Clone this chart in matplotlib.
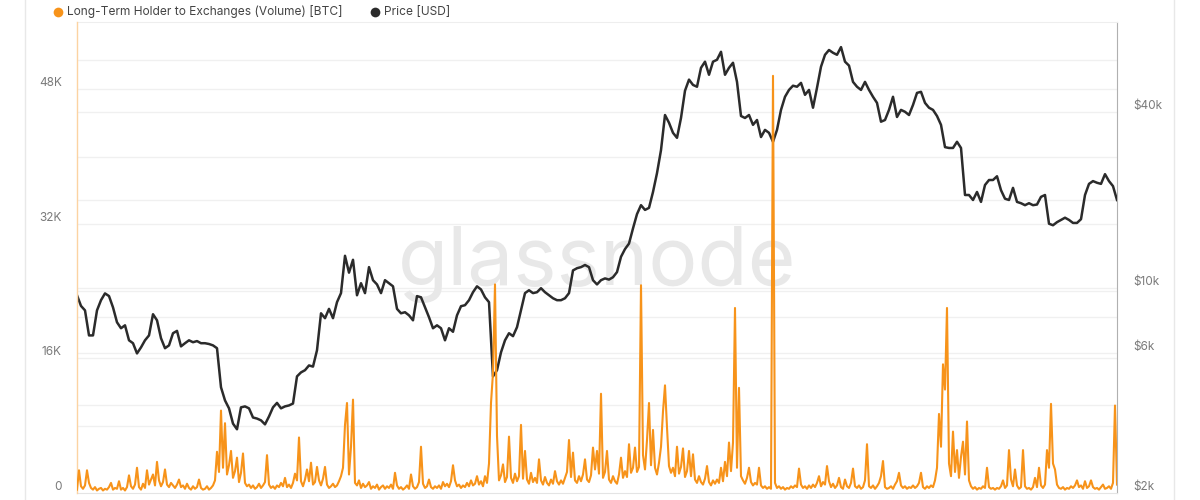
import numpy as np
import pandas as pd
import matplotlib
matplotlib.use("Agg")
import matplotlib.pyplot as plt
from matplotlib.lines import Line2D
import matplotlib.transforms as mtransforms

# ---------------- data ----------------
start_date = "2018-03-09"
end_date = "2023-03-13"

price_usd = [
    9460, 8700, 8400, 6900, 6900, 8400, 9100, 9600, 9400, 8600,
    7650, 7300, 7470, 6640, 6490, 5990, 6280, 6640, 6900, 8150,
    7770, 6750, 6240, 6380, 7020, 7150, 6330, 6490, 6640, 6540,
    6600, 6490, 6490, 6450, 6380, 6240, 4590, 4140, 3890, 3450,
    3300, 3920, 3950, 3890, 3620, 3590, 3540, 3430, 3650, 3920,
    4060, 3890, 3950, 3980, 4040, 5000, 5160, 5250, 5450, 5400,
    6140, 8210, 7900, 8500, 7900, 8960, 9620, 12900, 11300, 12500,
    9460, 10400, 9620, 11800, 10650, 10300, 9620, 10650, 10400, 10150,
    8500, 8210, 8280, 8080, 7770, 9400, 9310, 8610, 7960, 7300,
    7470, 7300, 6640, 7300, 7100, 8080, 8680, 8750, 9100, 9690,
    10150, 9900, 9310, 8960, 5000, 5250, 6040, 6640, 7020, 6860,
    7360, 8410, 9620, 9840, 9620, 9690, 10000, 9690, 9460, 9240,
    9100, 9100, 9240, 9620, 11500, 11700, 11800, 12000, 11800, 10650,
    10300, 10650, 10800, 10700, 10900, 11350, 12800, 13600, 14200, 16000,
    17900, 19200, 18500, 18800, 21300, 24700, 29600, 39000, 36700, 33900,
    32600, 38100, 47200, 51500, 49400, 48700, 56500, 59300, 53500, 59300,
    60200, 64100, 53500, 56500, 58800, 50600, 38700, 38100, 39000, 36100,
    37500, 32800, 34700, 33900, 31600, 34700, 40600, 45000, 47500, 49100,
    48700, 50200, 45700, 47500, 41300, 48300, 57000, 62600, 65000, 63600,
    62600, 66500, 59300, 57500, 50600, 48700, 47500, 50600, 47500, 45000,
    42900, 37000, 37500, 40600, 45000, 38400, 40600, 40000, 39000, 42200,
    46400, 46800, 42900, 41300, 40600, 38700, 36100, 30300, 30100, 30100,
    31600, 30100, 20800, 20800, 20000, 21300, 19700, 22500, 23400, 23400,
    24100, 21600, 20200, 20000, 22000, 19700, 19500, 19200, 19500, 19200,
    19300, 20500, 20800, 16600, 16400, 16800, 17100, 17400, 17100, 16700,
    16700, 17200, 20800, 22700, 23200, 22900, 22700, 24500, 23200, 22300, 20000,
]

# Long-Term Holder to Exchanges volume, thousands of BTC
lth_volume_k = [
    0.4, 2.7, 0.8, 0.5, 0.9, 2.7, 1.2, 0.6, 0.4, 0.7, 0.3, 0.5, 0.6, 0.3, 0.5, 0.4, 0.7, 1.2, 0.4, 0.6,
    0.5, 1.4, 0.4, 0.6, 0.3, 0.7, 2.1, 0.8, 0.5, 1.0, 3.0, 0.7, 0.4, 1.1, 0.6, 2.7, 1.0, 1.6, 2.2, 0.9,
    3.7, 1.5, 0.8, 1.3, 2.8, 1.0, 0.7, 1.2, 0.9, 0.6, 1.0, 1.6, 0.7, 0.9, 0.5, 1.1, 0.6, 0.4, 0.8, 0.5,
    0.7, 1.6, 0.6, 0.4, 0.5, 0.8, 0.4, 0.6, 0.9, 1.5, 4.9, 2.5, 9.8, 3.0, 8.3, 2.2, 3.3, 5.0, 1.8, 2.6,
    4.2, 1.3, 2.4, 4.7, 1.2, 0.8, 1.0, 0.6, 0.9, 0.5, 0.7, 1.1, 0.6, 0.9, 1.3, 4.5, 1.0, 0.6, 0.8, 0.5,
    0.9, 0.7, 1.2, 0.8, 1.8, 0.7, 1.0, 0.6, 1.2, 2.3, 1.5, 6.6, 1.4, 0.8, 1.6, 2.8, 1.4, 3.6, 1.0, 1.3,
    3.1, 1.5, 0.9, 1.7, 3.1, 1.0, 0.6, 0.8, 1.1, 0.7, 0.9, 1.4, 2.0, 3.0, 8.1, 10.7, 2.2, 5.5, 11.1, 1.2,
    0.9, 1.5, 0.6, 1.1, 0.7, 0.9, 1.3, 0.5, 0.8, 0.6, 1.0, 0.4, 0.7, 0.9, 0.5, 0.8, 0.6, 1.0, 0.5, 2.4,
    0.9, 0.5, 0.7, 0.4, 0.6, 0.9, 0.5, 2.2, 0.8, 0.5, 0.7, 1.3, 5.5, 1.1, 0.6, 0.8, 1.6, 0.7, 0.5, 0.8,
    0.6, 0.9, 0.5, 1.3, 0.8, 1.1, 0.7, 1.4, 3.3, 1.5, 0.8, 1.0, 0.6, 0.9, 0.7, 1.2, 0.8, 1.5, 0.9, 1.1,
    2.0, 1.0, 1.4, 0.8, 2.0, 1.2, 3.5, 10.7, 14.3, 24.8, 6.8, 1.5, 2.1, 3.4, 1.3, 1.9, 6.7, 1.8, 1.2, 2.3,
    1.4, 2.0, 8.1, 1.7, 5.0, 1.6, 1.1, 2.4, 1.3, 1.8, 1.2, 4.0, 1.5, 1.0, 1.9, 1.2, 0.9, 1.6, 1.1, 2.6,
    1.4, 1.0, 1.5, 1.1, 1.8, 2.5, 6.3, 1.9, 4.8, 1.5, 1.2, 2.0, 1.4, 2.2, 4.0, 1.6, 1.3, 2.1, 5.4, 2.8,
    5.0, 2.3, 11.8, 1.8, 2.5, 5.0, 1.6, 1.2, 2.0, 1.4, 1.1, 2.2, 4.2, 1.8, 2.6, 1.9, 5.8, 2.4, 3.0, 5.4,
    2.5, 3.1, 24.7, 4.5, 2.8, 6.3, 10.7, 3.3, 7.5, 3.0, 2.2, 3.6, 5.5, 9.7, 12.8, 7.8, 3.2, 2.4, 3.0, 2.0,
    5.5, 2.3, 3.1, 5.3, 1.9, 2.6, 5.0, 2.0, 4.6, 1.6, 1.2, 2.0, 1.3, 1.0, 1.7, 3.2, 1.3, 0.9, 1.5, 1.1,
    1.6, 1.2, 3.0, 1.4, 3.7, 2.0, 6.0, 2.6, 6.0, 22.0, 3.0, 12.5, 2.0, 1.5, 1.1, 1.8, 3.0, 1.3, 0.9, 1.2,
    1.0, 3.0, 0.9, 0.6, 0.8, 0.5, 0.7, 0.5, 49.6, 1.2, 0.6, 0.8, 0.5, 0.7, 0.4, 0.6, 0.5, 0.8, 0.6, 0.9,
    0.7, 2.9, 1.0, 0.6, 0.8, 0.5, 0.9, 0.6, 1.0, 0.7, 1.2, 2.0, 0.8, 1.3, 1.0, 3.2, 1.4, 0.7, 1.1, 0.6,
    0.9, 1.8, 0.7, 0.5, 1.6, 0.8, 0.6, 1.2, 2.9, 0.8, 0.6, 0.9, 0.5, 0.7, 1.5, 5.8, 0.8, 0.6, 0.9, 0.5,
    0.8, 1.2, 2.0, 3.8, 0.7, 0.5, 0.6, 0.8, 0.5, 1.0, 1.4, 2.4, 0.9, 0.6, 0.8, 0.5, 0.7, 0.6, 0.9, 0.6,
    0.8, 1.2, 2.4, 0.7, 0.5, 0.8, 0.6, 0.9, 0.7, 1.5, 3.0, 9.4, 5.5, 15.3, 12.3, 22.0, 3.5, 2.0, 7.3, 2.5,
    5.1, 1.8, 4.3, 6.1, 2.2, 8.5, 1.5, 0.8, 0.5, 0.7, 0.4, 0.6, 0.5, 0.8, 0.6, 3.0, 0.7, 0.5, 0.6, 0.4,
    0.6, 0.5, 0.8, 1.5, 0.6, 0.9, 5.1, 1.6, 0.8, 2.8, 0.9, 0.5, 0.7, 5.1, 0.8, 0.5, 0.6, 0.4, 0.7, 1.8,
    0.7, 3.0, 0.9, 0.6, 1.0, 5.1, 3.0, 10.6, 3.5, 2.8, 1.0, 0.6, 0.5, 0.7, 0.4, 0.6, 0.5, 0.8, 0.6, 0.9,
    1.5, 0.7, 0.9, 0.5, 1.4, 0.6, 0.8, 1.5, 0.7, 0.5, 0.6, 0.4, 0.7, 1.0, 0.5, 0.6, 0.8, 0.5, 1.2, 10.4,
    1.0,
]

left_ticks = [0, 16000, 32000, 48000]
left_labels = ["0", "16K", "32K", "48K"]
left_grid = [8000, 16000, 24000, 32000, 40000, 48000]
right_ticks = [2000, 6000, 10000, 40000]
right_labels = ["$2k", "$6k", "$10k", "$40k"]
right_grid = [4000, 6000, 8000, 10000, 20000, 40000, 60000]

series_names = ["Long-Term Holder to Exchanges (Volume) [BTC]", "Price [USD]"]

# ---------------- style ----------------
ORANGE = "#f7931a"
DARK = "#2b2b2b"
GRID = "#f0f0f0"
TICK = "#7a7a7a"
FONT = ["Inter", "DejaVu Sans"]
plt.rcParams["font.family"] = FONT

vol_dates = pd.date_range(start_date, end_date, periods=len(lth_volume_k))
price_dates = pd.date_range(start_date, end_date, periods=len(price_usd))
vol_btc = np.array(lth_volume_k) * 1000.0

fig = plt.figure(figsize=(12, 5), dpi=100)
fig.patch.set_facecolor("white")

axv = fig.add_axes([77 / 1200, 7 / 500, 1040 / 1200, 471 / 500])
axp = axv.twinx()

# volume axis drawn above the price axis
axv.set_zorder(2)
axp.set_zorder(1)
axv.patch.set_visible(False)
axp.patch.set_facecolor("white")

# price (log, right)
axp.set_yscale("log")
axp.plot(price_dates, price_usd, color=DARK, lw=1.8, zorder=3, solid_joinstyle="round")
axp.set_ylim(2000, 81000)
axp.yaxis.set_label_position("right")
axp.yaxis.tick_right()
axp.set_yticks(right_ticks)
axp.set_yticklabels(right_labels)
axp.minorticks_off()

# gridlines (drawn on the bottom axis so they stay under the lines)
for g in right_grid:
    axp.axhline(g, color=GRID, lw=1.0, zorder=0)
blend = mtransforms.blended_transform_factory(axp.transAxes, axv.transData)
for g in left_grid:
    axp.add_line(Line2D([0, 1], [g, g], transform=blend, color=GRID, lw=1.0, zorder=0))

# watermark
axp.text(0.5, 0.485, "glassnode", transform=axp.transAxes, ha="center", va="center",
         fontsize=59, color="#e8e8e8", family=FONT, zorder=1)

# volume (linear, left)
axv.plot(vol_dates, vol_btc, color=ORANGE, lw=1.5, zorder=4, solid_joinstyle="round")
axv.set_ylim(0, 56000)
axv.set_yticks(left_ticks)
axv.set_yticklabels(left_labels)
axv.set_xlim(vol_dates[0], vol_dates[-1])
axp.set_xlim(vol_dates[0], vol_dates[-1])

for ax in (axv, axp):
    ax.tick_params(axis="x", bottom=False, labelbottom=False, top=False)
    ax.tick_params(axis="y", length=0, labelsize=8.5, labelcolor=TICK)
    for s in ax.spines.values():
        s.set_visible(False)

axv.tick_params(axis="y", pad=11)
axp.tick_params(axis="y", pad=12)
for lab in axv.get_yticklabels() + axp.get_yticklabels():
    lab.set_verticalalignment("bottom")

axv.spines["left"].set_visible(True)
axv.spines["left"].set_color("#fcd3a2")
axv.spines["left"].set_linewidth(1.0)
axp.spines["right"].set_visible(True)
axp.spines["right"].set_color("#b0b0b0")
axp.spines["top"].set_visible(True)
axp.spines["top"].set_color("#eeeeee")
axp.spines["bottom"].set_visible(True)
axp.spines["bottom"].set_color("#e4e4e4")

# card borders
fig.add_artist(Line2D([25 / 1200, 25 / 1200], [0, 1], transform=fig.transFigure, color="#e8e8e8", lw=1))
fig.add_artist(Line2D([1174 / 1200, 1174 / 1200], [0, 1], transform=fig.transFigure, color="#e8e8e8", lw=1))

# legend
ly = 1 - 12 / 500
fig.add_artist(Line2D([58 / 1200], [ly], transform=fig.transFigure, marker="o", markersize=7,
                      color=ORANGE, markeredgewidth=0, linestyle="none"))
fig.text(67 / 1200, ly, series_names[0], ha="left", va="center", fontsize=8.6, color="#444444")
fig.add_artist(Line2D([375 / 1200], [ly], transform=fig.transFigure, marker="o", markersize=7,
                      color=DARK, markeredgewidth=0, linestyle="none"))
fig.text(384 / 1200, ly, series_names[1], ha="left", va="center", fontsize=8.6, color="#444444")

fig.savefig("out.png", dpi=100, facecolor="white")
